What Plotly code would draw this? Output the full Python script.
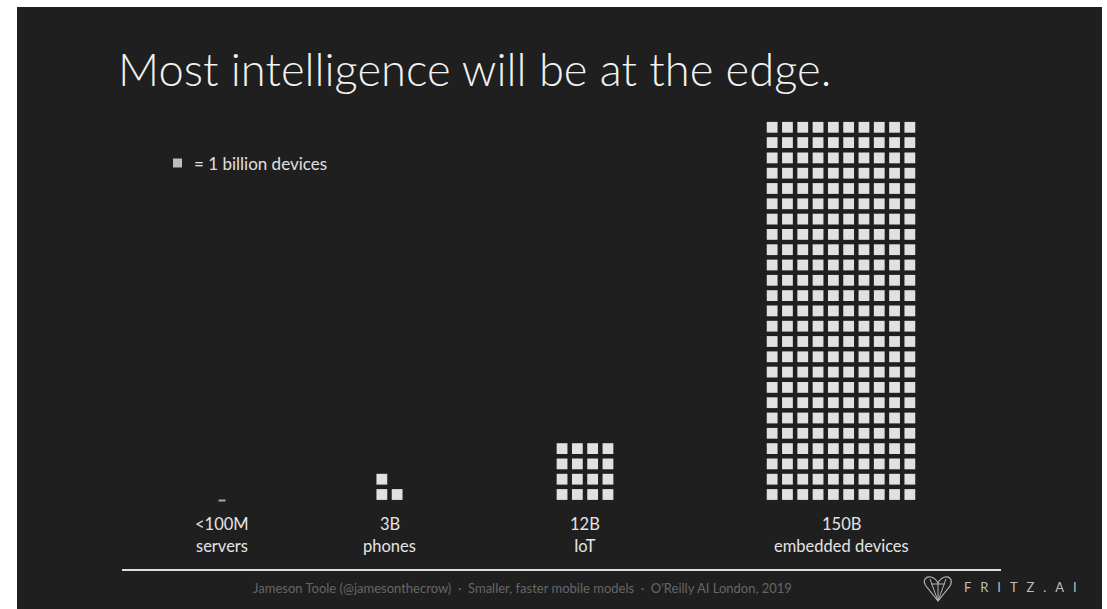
import plotly.graph_objects as go

# --- data -------------------------------------------------------------
categories = ["servers", "phones", "IoT", "embedded devices"]
value_labels = ["<100M", "3B", "12B", "150B"]
# Icons drawn per group. The grids are illustrative: the 12B and 150B groups
# hold 16 and 250 icons, which is more than the one-icon-per-billion key implies.
squares_shown = [0, 3, 16, 250]
grid_columns = [1, 2, 4, 10]           # icons per row in each group
fraction_marks = [1, 0, 0, 0]          # groups shown only as a sub-icon dash
legend_text = "= 1 billion devices"
title_text = "Most intelligence will be at the edge."
footer_text = ("Jameson Toole (@jamesonthecrow)  \u00b7  Smaller, faster mobile models"
               "  \u00b7  O'Reilly AI London, 2019")
brand_text = "FRITZ.AI"

# --- layout constants (pixels) ----------------------------------------
W, H = 1107, 609
BG = "#1f1f1f"
ICON = "#e1e1e1"
GROUP_X = [222, 389.5, 585, 841]
BASE_Y = 494.5          # centre of the bottom icon row
PITCH = 15.3
ICON_SIZE = 10.8
FONT = "Lato"

fig = go.Figure()

# icon grids, filled bottom-up, left to right
for gx, n, cols in zip(GROUP_X, squares_shown, grid_columns):
    xs, ys = [], []
    for i in range(n):
        r, c = divmod(i, cols)
        xs.append(gx + (c - (cols - 1) / 2) * PITCH)
        ys.append(BASE_Y - r * PITCH)
    if n:
        fig.add_trace(go.Scatter(
            x=xs, y=ys, mode="markers", hoverinfo="skip", showlegend=False,
            marker=dict(symbol="square", size=ICON_SIZE, color=ICON, line=dict(width=0)),
        ))

# fractional group: a short dash
dash_x = [gx for gx, f in zip(GROUP_X, fraction_marks) if f]
fig.add_trace(go.Scatter(
    x=dash_x, y=[BASE_Y + 6] * len(dash_x), mode="markers", hoverinfo="skip",
    showlegend=False,
    marker=dict(symbol="line-ew", size=5, line=dict(width=2, color="#a8a8a8")),
))

# key icon
fig.add_trace(go.Scatter(
    x=[177.5], y=[163], mode="markers", hoverinfo="skip", showlegend=False,
    marker=dict(symbol="square", size=9, color="#bdbdbd", line=dict(width=0)),
))

annotations = []
# group labels
for gx, v, c in zip(GROUP_X, value_labels, categories):
    annotations.append(dict(
        x=gx, y=523.5, xref="x", yref="y", text=v, showarrow=False,
        font=dict(family=FONT, size=16.5, color="#e4e4e4"), xanchor="center", yanchor="middle",
    ))
    annotations.append(dict(
        x=gx, y=546, xref="x", yref="y", text=c, showarrow=False,
        font=dict(family=FONT, size=16.5, color="#e4e4e4"), xanchor="center", yanchor="middle",
    ))

annotations += [
    dict(x=116, y=68, xref="x", yref="y", text=title_text, showarrow=False,
         xanchor="left", yanchor="middle",
         font=dict(family=FONT, size=45.3, color="#f2f2f2", weight=300)),
    dict(x=192, y=163, xref="x", yref="y", text=legend_text, showarrow=False,
         xanchor="left", yanchor="middle",
         font=dict(family=FONT, size=17, color="#e0e0e0")),
    dict(x=522, y=588, xref="x", yref="y", text=footer_text, showarrow=False,
         xanchor="center", yanchor="middle",
         font=dict(family=FONT, size=13, color="#666666")),
    dict(x=962, y=587, xref="x", yref="y",
         text="\u2002\u2009\u200a".join(brand_text), showarrow=False,
         xanchor="left", yanchor="middle",
         font=dict(family=FONT, size=13, color="#bcbcbc")),
]

shapes = [
    # slide background
    dict(type="rect", xref="x", yref="y", x0=17, x1=1102, y0=7, y1=H + 2,
         fillcolor=BG, line=dict(width=0), layer="below"),
    # footer rule
    dict(type="line", xref="x", yref="y", x0=122, x1=1001, y0=570, y1=570,
         line=dict(color="#dcdcdc", width=2)),
    # brand heart mark
    dict(type="path", xref="x", yref="y",
         path="M 938 601 L 926 586 C 922 580 926 576 931 577 C 935 578 937 581 938 583 "
              "C 939 581 941 578 945 577 C 950 576 953 580 950 586 Z",
         line=dict(color="#b5b5b5", width=1.2), fillcolor="rgba(0,0,0,0)"),
    dict(type="path", xref="x", yref="y",
         path="M 930 579 L 938 601 L 946 579 M 931 584 L 945 584 M 938 583 L 938 601",
         line=dict(color="#b5b5b5", width=1), fillcolor="rgba(0,0,0,0)"),
]

fig.update_layout(
    width=W, height=H,
    margin=dict(l=0, r=0, t=0, b=0),
    paper_bgcolor="white", plot_bgcolor="white",
    xaxis=dict(range=[0, W], visible=False, fixedrange=True),
    yaxis=dict(range=[H, 0], visible=False, fixedrange=True),
    annotations=annotations, shapes=shapes,
    showlegend=False,
)

fig.write_html("out.html")
